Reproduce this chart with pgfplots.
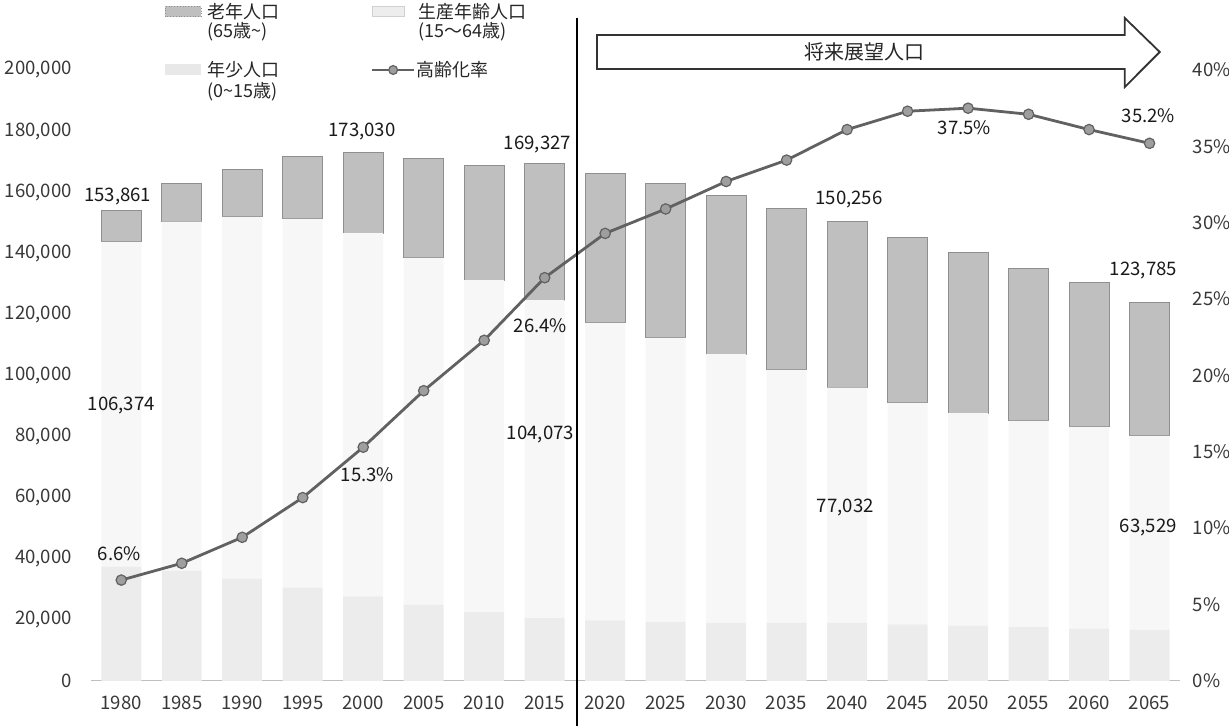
\documentclass[border=0pt]{standalone}
\usepackage{pgfplots}
\pgfplotsset{compat=1.18}
\usepackage{pgfplotstable}
\usepackage{fontspec}
\setmainfont{Noto Sans CJK JP}

\definecolor{eld}{gray}{0.75}
\definecolor{eldline}{gray}{0.56}
\definecolor{work}{gray}{0.968}
\definecolor{young}{gray}{0.925}
\definecolor{rateline}{gray}{0.38}
\definecolor{ratemark}{gray}{0.62}

\pgfplotstableread{
x Y W E
0 37332 106374 10155
1 36000 114357 12543
2 33500 118422 15578
3 30500 120768 20432
4 27700 118856 26474
5 25000 113510 32490
6 22500 108671 37429
7 20552 104073 44702
8 19800 97396 48804
9 19300 92963 50437
10 19000 88007 51993
11 19000 82815 52685
12 18982 77032 54242
13 18500 72540 54160
14 18000 69687 52613
15 17600 67513 49987
16 17100 66095 47205
17 16684 63529 43572
}\popdata

\pgfplotstableread{
x r
0 6.6
1 7.7
2 9.4
3 12.0
4 15.3
5 19.0
6 22.3
7 26.4
8 29.3
9 30.9
10 32.7
11 34.1
12 36.1
13 37.3
14 37.5
15 37.1
16 36.1
17 35.2
}\ratedata

\pgfplotsset{
  common/.style={
    scale only axis, width=544.5pt, height=305.5pt,
    xmin=-0.5, xmax=17.5, clip=false,
    axis line style={draw=none}, major tick length=0pt,
    tick label style={font=\fontsize{9.3}{11}\selectfont, text=black!78},
  }
}

\begin{document}
\begin{tikzpicture}
\begin{axis}[common,
  ymin=0, ymax=200000,
  ybar stacked, bar width=20pt,
  xtick={0,...,17},
  xticklabels={1980,1985,1990,1995,2000,2005,2010,2015,2020,2025,2030,2035,2040,2045,2050,2055,2060,2065},
  xticklabel style={yshift=-4pt},
  ytick={0,20000,40000,60000,80000,100000,120000,140000,160000,180000,200000},
  yticklabels={0,{20,000},{40,000},{60,000},{80,000},{100,000},{120,000},{140,000},{160,000},{180,000},{200,000}},
  scaled y ticks=false,
  yticklabel style={xshift=-6pt},
]
\addplot[fill=young, draw=none] table[x=x,y=Y]{\popdata};
\addplot[fill=work, draw=none] table[x=x,y=W]{\popdata};
\addplot[fill=eld, draw=eldline, line width=0.5pt] table[x=x,y=E]{\popdata};
\draw[black!25, line width=0.4pt] (rel axis cs:0,0) -- (rel axis cs:1,0);
\end{axis}

\begin{axis}[common,
  ymin=0, ymax=40,
  axis x line=none, axis y line*=right,
  ytick={0,5,10,15,20,25,30,35,40},
  yticklabels={0\%,5\%,10\%,15\%,20\%,25\%,30\%,35\%,40\%},
  yticklabel style={xshift=3pt},
]
\addplot[rateline, line width=1.4pt, mark=*, mark size=2.6pt,
  mark options={fill=ratemark, draw=rateline, line width=0.6pt}]
  table[x=x,y=r]{\ratedata};
\coordinate (O) at (rel axis cs:0,0);
\coordinate (L1) at (axis cs:-0.06,31.72);
\coordinate (L2) at (axis cs:0.0,18.02);
\coordinate (L3) at (axis cs:3.98,35.98);
\coordinate (L4) at (axis cs:6.88,35.1);
\coordinate (L5) at (axis cs:6.93,23.28);
\coordinate (L6) at (axis cs:6.93,16.16);
\coordinate (L7) at (axis cs:4.07,13.5);
\coordinate (L8) at (axis cs:-0.03,8.32);
\coordinate (L9) at (axis cs:12.03,31.54);
\coordinate (L10) at (axis cs:11.97,11.34);
\coordinate (L11) at (axis cs:13.94,36.24);
\coordinate (L12) at (axis cs:16.98,37.04);
\coordinate (L13) at (axis cs:16.9,26.9);
\coordinate (L14) at (axis cs:16.98,10.05);
\end{axis}

% data labels
\begin{scope}[every node/.style={font=\fontsize{9.3}{11}\selectfont, text=black!90, inner sep=0pt}]
\node at (L1) {153,861};
\node at (L2) {106,374};
\node at (L3) {173,030};
\node at (L4) {169,327};
\node at (L5) {26.4\%};
\node at (L6) {104,073};
\node at (L7) {15.3\%};
\node at (L8) {6.6\%};
\node at (L9) {150,256};
\node at (L10) {77,032};
\node at (L11) {37.5\%};
\node at (L12) {35.2\%};
\node at (L13) {123,785};
\node at (L14) {63,529};
\end{scope}

% annotations in axis-relative units
\begin{scope}[shift={(O)}, x=544.5pt, y=305.5pt]
\draw[black, line width=1.3pt] (0.4463,-0.0737) -- (0.4463,1.085);
\draw[black!80, line width=0.9pt, fill=white]
  (0.4647,1.0573) -- (0.9495,1.0573) -- (0.9495,1.0851) -- (0.9816,1.0295) --
  (0.9495,0.9722) -- (0.9495,1.0016) -- (0.4647,1.0016) -- cycle;
\node[font=\fontsize{10}{12}\selectfont, text=black!85] at (0.7107,1.0295) {将来展望人口};

\begin{scope}[every node/.style={font=\fontsize{9}{11}\selectfont, text=black!85, inner sep=0pt, anchor=west}]
\filldraw[fill=eld, draw=eldline, densely dotted] (0.068,1.087) rectangle (0.101,1.104);
\node at (0.1066,1.095) {老年人口};
\node at (0.1066,1.062) {(65歳\textasciitilde)};
\filldraw[fill=black!7, draw=black!18] (0.258,1.087) rectangle (0.288,1.104);
\node at (0.3004,1.095) {生産年齢人口};
\node at (0.3004,1.062) {(15～64歳)};
\filldraw[fill=black!9, draw=none] (0.068,0.992) rectangle (0.101,1.009);
\node at (0.1066,1.000) {年少人口};
\node at (0.1066,0.964) {(0\textasciitilde15歳)};
\draw[rateline, line width=1.3pt] (0.258,1.0) -- (0.297,1.0);
\filldraw[fill=ratemark, draw=rateline, line width=0.6pt] (0.2775,1.0) circle (2.2pt);
\node at (0.2985,1.000) {高齢化率};
\end{scope}
\end{scope}

\pgfresetboundingbox
\path[use as bounding box, shift={(O)}, x=544.5pt, y=305.5pt] (-0.0836,-0.0737) rectangle (1.0452,1.1146);
\end{tikzpicture}
\end{document}
